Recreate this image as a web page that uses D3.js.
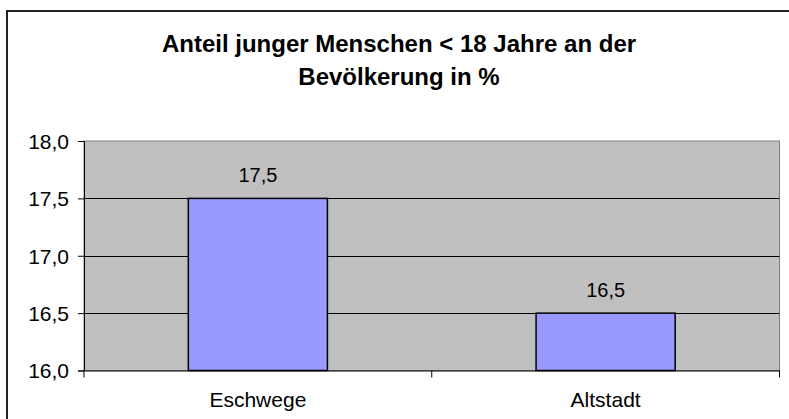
<!DOCTYPE html>
<html>
<head>
<meta charset="utf-8">
<script src="https://d3js.org/d3.v7.min.js"></script>
<style>
body { margin: 0; background: #fff; }
text { font-family: "Liberation Sans", Arial, sans-serif; fill: #000; }
</style>
</head>
<body>
<svg class="chart"></svg>
<script>
// data
const categories = ["Eschwege", "Altstadt"]
const values = [17.5, 16.5]
const yTicks = [16.0, 16.5, 17.0, 17.5, 18.0]
const titleLines = ["Anteil junger Menschen < 18 Jahre an der", "Bevölkerung in %"]

const w = 789, h = 419
const plot = { left: 84, top: 141, right: 779.5, bottom: 370.5 }

const svg = d3.select('.chart').attr('width', w).attr('height', h)

// outer frame (runs off the right/bottom edge)
svg.append('rect')
    .attr('x', 7).attr('y', 11).attr('width', 800).attr('height', 420)
    .style('fill', '#fff').style('stroke', '#222').style('stroke-width', 2)

// title
svg.append('g').selectAll('text').data(titleLines).enter().append('text')
    .attr('x', 399)
    .attr('y', (d, i) => 51.5 + i * 33)
    .attr('text-anchor', 'middle')
    .style('font-size', '24px').style('font-weight', 'bold')
    .text(d => d)

const x = d3.scaleBand().domain(categories).range([plot.left, plot.right]).paddingInner(0).paddingOuter(0)
const y = d3.scaleLinear().domain([16, 18]).range([plot.bottom, plot.top])

// plot background
svg.append('rect')
    .attr('x', plot.left).attr('y', plot.top)
    .attr('width', plot.right - plot.left).attr('height', plot.bottom - plot.top)
    .style('fill', '#c0c0c0').style('stroke', '#808080').style('stroke-width', 1)

// gridlines
svg.append('g').selectAll('line').data(yTicks.slice(1, -1)).enter().append('line')
    .attr('x1', plot.left).attr('x2', plot.right)
    .attr('y1', d => Math.round(y(d)) + 0.5).attr('y2', d => Math.round(y(d)) + 0.5)
    .style('stroke', '#000').style('stroke-width', 1)

// bars
const barW = x.bandwidth() * 0.4
svg.append('g').selectAll('rect').data(values).enter().append('rect')
    .attr('x', (d, i) => x(categories[i]) + (x.bandwidth() - barW) / 2)
    .attr('y', d => y(d))
    .attr('width', barW)
    .attr('height', d => y(16) - y(d))
    .style('fill', '#9999ff').style('stroke', '#000').style('stroke-width', 1.5)

// value labels
svg.append('g').selectAll('text').data(values).enter().append('text')
    .attr('x', (d, i) => x(categories[i]) + x.bandwidth() / 2)
    .attr('y', d => y(d) - 16)
    .attr('text-anchor', 'middle')
    .style('font-size', '20px')
    .text(d => d3.format('.1f')(d).replace('.', ','))

// y axis
const yAxis = d3.axisLeft(y).tickValues(yTicks).tickSize(6).tickPadding(9)
    .tickFormat(d => d3.format('.1f')(d).replace('.', ','))
const gy = svg.append('g').attr('transform', 'translate(' + plot.left + ',0)').call(yAxis)
gy.selectAll('text').style('font-size', '21px').attr('dy', '0.35em')
gy.select('.domain').style('stroke', '#000')
gy.selectAll('.tick line').style('stroke', '#000')

// x axis
const xAxis = d3.axisBottom(x).tickSize(0).tickPadding(22)
const gx = svg.append('g').attr('transform', 'translate(0,' + plot.bottom + ')').call(xAxis)
gx.selectAll('text').style('font-size', '21px')
gx.select('.domain').style('stroke', '#000')
// category separators
svg.append('g').selectAll('line').data([plot.left, x(categories[1]), plot.right]).enter().append('line')
    .attr('x1', d => d).attr('x2', d => d)
    .attr('y1', plot.bottom).attr('y2', plot.bottom + 7)
    .style('stroke', '#000')
</script>
</body>
</html>
